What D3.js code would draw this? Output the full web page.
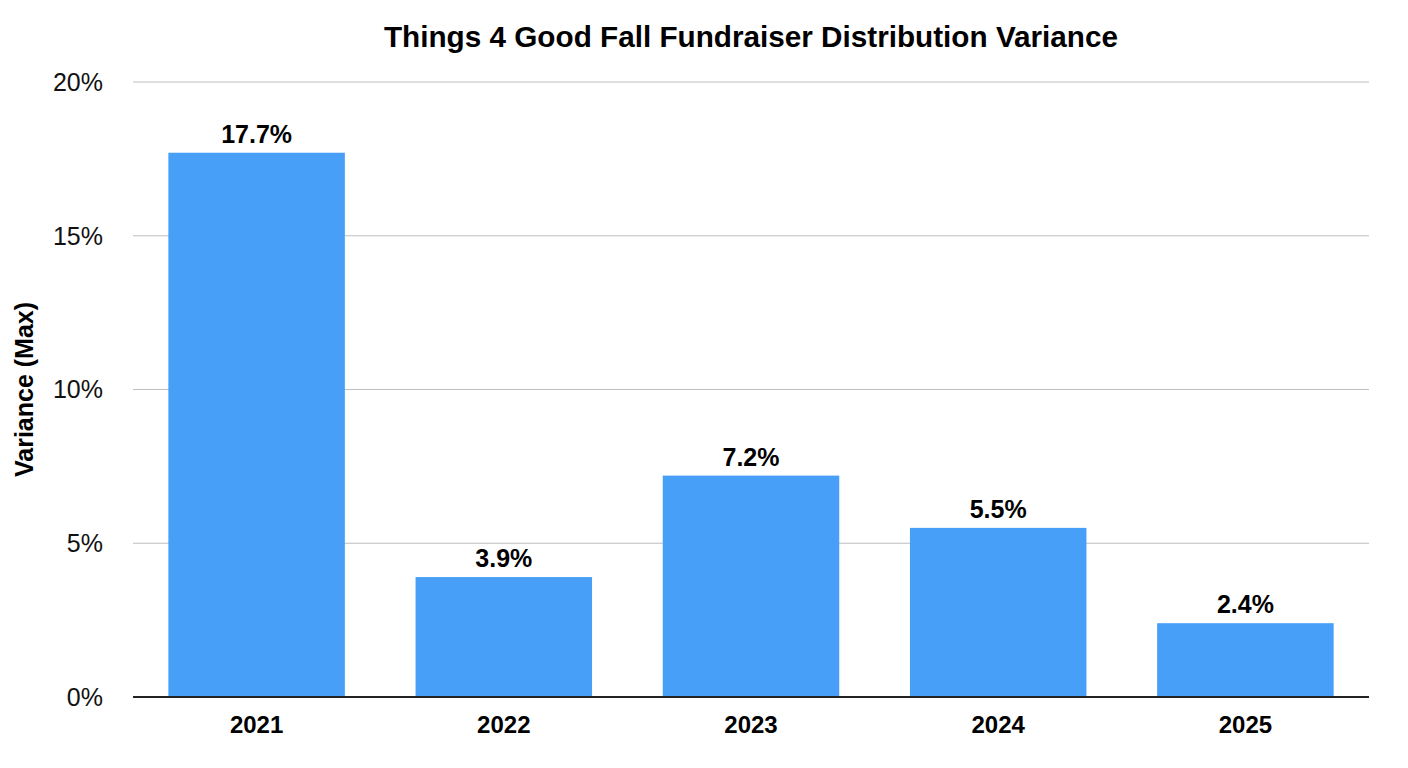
<!DOCTYPE html>
<html>
<head>
<meta charset="utf-8">
<script src="https://cdn.jsdelivr.net/npm/d3@7"></script>
<style>
  body { margin: 0; background: #fff; }
  text { font-family: "Liberation Sans", Arial, Helvetica, sans-serif; }
</style>
</head>
<body>
<svg id="chart"></svg>
<script>
const years = ["2021", "2022", "2023", "2024", "2025"];
const variance = [17.7, 3.9, 7.2, 5.5, 2.4];
const yTicks = [0, 5, 10, 15, 20];

var margin = { top: 82, right: 39, bottom: 71, left: 133 },
    width = 1408 - margin.left - margin.right,
    height = 768 - margin.top - margin.bottom;

const svg = d3.select("#chart")
    .attr("width", 1408)
    .attr("height", 768);

const g = svg.append("g")
    .attr("transform", "translate(" + margin.left + "," + margin.top + ")");

const x = d3.scaleBand().domain(years).range([0, width]).paddingInner(0.286).paddingOuter(0.143);
const y = d3.scaleLinear().domain([0, 20]).range([height, 0]);

// gridlines
g.selectAll(".grid")
    .data(yTicks.slice(1))
    .enter().append("line")
    .attr("x1", 0).attr("x2", width)
    .attr("y1", d => y(d)).attr("y2", d => y(d))
    .attr("stroke", "#bfbfbf").attr("stroke-width", 1);

// y tick labels
g.selectAll(".ytick")
    .data(yTicks)
    .enter().append("text")
    .attr("x", -30)
    .attr("y", d => y(d))
    .attr("dy", "0.35em")
    .attr("text-anchor", "end")
    .attr("font-size", 25)
    .attr("fill", "#111")
    .text(d => d + "%");

// bars
g.selectAll(".bar")
    .data(variance)
    .enter().append("rect")
    .attr("x", (d, i) => x(years[i]))
    .attr("width", x.bandwidth())
    .attr("y", d => y(d))
    .attr("height", d => height - y(d))
    .attr("fill", "#489ff8");

// value labels
g.selectAll(".val")
    .data(variance)
    .enter().append("text")
    .attr("x", (d, i) => x(years[i]) + x.bandwidth() / 2)
    .attr("y", d => y(d) - 10)
    .attr("text-anchor", "middle")
    .attr("font-size", 25)
    .attr("font-weight", "bold")
    .attr("fill", "#000")
    .text(d => d.toFixed(1) + "%");

// baseline
g.append("line")
    .attr("x1", 0).attr("x2", width)
    .attr("y1", height).attr("y2", height)
    .attr("stroke", "#222").attr("stroke-width", 2);

// x labels
g.selectAll(".xtick")
    .data(years)
    .enter().append("text")
    .attr("x", d => x(d) + x.bandwidth() / 2)
    .attr("y", height + 36)
    .attr("text-anchor", "middle")
    .attr("font-size", 24)
    .attr("font-weight", "bold")
    .attr("fill", "#000")
    .text(d => d);

// title
svg.append("text")
    .attr("x", margin.left + width / 2)
    .attr("y", 47)
    .attr("text-anchor", "middle")
    .attr("font-size", 29.7)
    .attr("font-weight", "bold")
    .text("Things 4 Good Fall Fundraiser Distribution Variance");

// y axis title
svg.append("text")
    .attr("transform", "translate(33," + (margin.top + height / 2) + ") rotate(-90)")
    .attr("text-anchor", "middle")
    .attr("font-size", 25)
    .attr("font-weight", "bold")
    .text("Variance (Max)");
</script>
</body>
</html>
